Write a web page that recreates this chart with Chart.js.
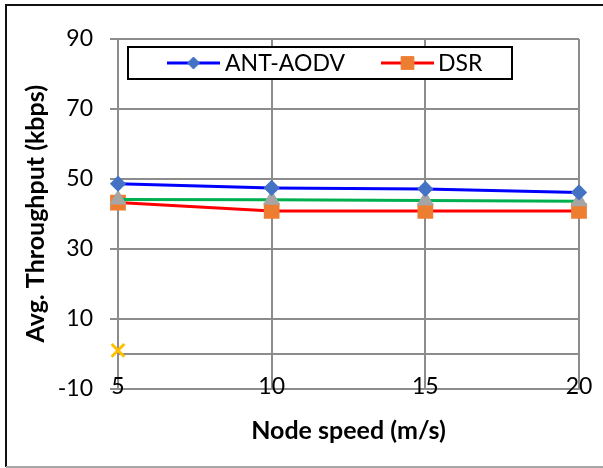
<!DOCTYPE html>
<html>
<head>
<meta charset="utf-8">
<script src="https://cdn.jsdelivr.net/npm/chart.js@4"></script>
<style>
  html, body { margin: 0; padding: 0; background: #fff; }
  #wrap { width: 603px; height: 468px; position: relative; }
</style>
</head>
<body>
<div id="wrap"><canvas id="throughputChart"></canvas></div>
<script>
// node speed (m/s)
const speeds = ['5', '10', '15', '20'];
// avg throughput (kbps)
const antAodv = [48.6, 47.4, 47.1, 46.1];
const dsr = [43.2, 40.8, 40.8, 40.8];
const series3 = [44.1, 44.0, 43.8, 43.6];
const series4 = [0.9, null, null, null];
const yTicks = [-10, 0, 10, 30, 50, 70, 90];

const FONT = 'Lato, "Liberation Sans", sans-serif';
const GRID = '#8c8c8c';

// legend box with white fill and black frame
const boxLegend = {
    id: 'boxLegend',
    afterDraw(chart) {
        const ctx = chart.ctx;
        ctx.save();
        ctx.fillStyle = '#fff';
        ctx.fillRect(128, 47, 384, 32);
        ctx.strokeStyle = '#000';
        ctx.lineWidth = 2;
        ctx.strokeRect(128, 47, 384, 32);
        const items = [
            { ds: chart.data.datasets[0], x0: 167, x1: 220, tx: 225 },
            { ds: chart.data.datasets[2], x0: 381, x1: 434, tx: 438 }
        ];
        const y = 63;
        for (const it of items) {
            ctx.strokeStyle = it.ds.borderColor;
            ctx.lineWidth = 3;
            ctx.beginPath();
            ctx.moveTo(it.x0, y);
            ctx.lineTo(it.x1, y);
            ctx.stroke();
            ctx.fillStyle = it.ds.pointBackgroundColor;
            ctx.strokeStyle = it.ds.pointBorderColor;
            ctx.lineWidth = 1;
            Chart.helpers.drawPoint(ctx, {
                pointStyle: it.ds.pointStyle,
                radius: it.ds.pointRadius,
                borderWidth: 1
            }, (it.x0 + it.x1) / 2, y);
            ctx.fillStyle = '#000';
            ctx.font = '23px ' + FONT;
            ctx.textBaseline = 'middle';
            ctx.textAlign = 'left';
            ctx.fillText(it.ds.label, it.tx, y + 1);
        }
        ctx.restore();
    }
};

// category labels sit across the bottom gridline, so draw them outside the scale clip
const xLabels = {
    id: 'xLabels',
    afterDraw(chart) {
        const ctx = chart.ctx;
        const xs = chart.scales.x;
        ctx.save();
        ctx.fillStyle = '#000';
        ctx.font = '23px ' + FONT;
        ctx.textAlign = 'center';
        ctx.textBaseline = 'middle';
        speeds.forEach((s, i) => {
            ctx.fillText(s, xs.getPixelForTick(i), chart.chartArea.bottom - 2);
        });
        ctx.restore();
    }
};

// outer frame of the figure
const frame = {
    id: 'frame',
    afterDraw(chart) {
        const ctx = chart.ctx;
        ctx.save();
        ctx.strokeStyle = '#111';
        ctx.lineWidth = 2;
        ctx.beginPath();
        ctx.moveTo(6, 467);
        ctx.lineTo(6, 5);
        ctx.lineTo(603, 5);
        ctx.stroke();
        ctx.strokeStyle = '#a6a6a6';
        ctx.beginPath();
        ctx.moveTo(6, 467);
        ctx.lineTo(603, 467);
        ctx.stroke();
        ctx.restore();
    }
};

const ctx = document.getElementById('throughputChart').getContext('2d');
new Chart(ctx, {
    type: 'line',
    data: {
        labels: speeds,
        datasets: [
            { label: 'ANT-AODV', data: antAodv, borderColor: '#0000ff', borderWidth: 3,
              pointStyle: 'rectRot', pointRadius: 6, pointBackgroundColor: '#4472c4',
              pointBorderColor: '#4472c4', order: 1 },
            { label: 'Series3', data: series3, borderColor: '#00b050', borderWidth: 3,
              pointStyle: 'triangle', pointRadius: 7, pointBackgroundColor: '#a5a5a5',
              pointBorderColor: '#a5a5a5', order: 2 },
            { label: 'DSR', data: dsr, borderColor: '#ff0000', borderWidth: 3,
              pointStyle: 'rect', pointRadius: 9, pointBackgroundColor: '#ed7d31',
              pointBorderColor: '#ed7d31', order: 3 },
            { label: 'Series4', data: series4, borderColor: '#ffc000', showLine: false,
              pointStyle: 'crossRot', pointRadius: 9, pointBorderWidth: 3,
              pointBorderColor: '#ffc000', order: 0 }
        ]
    },
    options: {
        responsive: true,
        maintainAspectRatio: false,
        animation: false,
        clip: false,
        layout: { padding: { left: 0, right: 24, top: 39, bottom: 0 } },
        plugins: { legend: { display: false }, tooltip: { enabled: false } },
        elements: { line: { tension: 0 } },
        scales: {
            x: {
                offset: false,
                afterFit(scale) { scale.height = 79.5; },
                grid: { color: GRID, lineWidth: 2, drawTicks: false },
                border: { color: GRID, width: 2 },
                ticks: { display: false },
                title: { display: true, text: 'Node speed (m/s)', color: '#000',
                         font: { family: FONT, size: 25, weight: 'bold' }, padding: { bottom: 22 } }
            },
            y: {
                min: -10,
                max: 90,
                afterFit(scale) { scale.width = 118; },
                afterBuildTicks(scale) { scale.ticks = yTicks.map(v => ({ value: v })); },
                grid: {
                    color: GRID, lineWidth: 2, tickLength: 8,
                    tickColor: c => (c.tick && c.tick.value === 0) ? 'rgba(0,0,0,0)' : GRID
                },
                border: { color: GRID, width: 2 },
                ticks: {
                    color: '#000', font: { family: FONT, size: 23 }, padding: 17,
                    callback: v => v === 0 ? '' : v
                },
                title: { display: true, text: 'Avg. Throughput (kbps)', color: '#000',
                         font: { family: FONT, size: 25, weight: 'bold' }, padding: { top: 21 } }
            }
        }
    },
    plugins: [boxLegend, xLabels, frame]
});
</script>
</body>
</html>
